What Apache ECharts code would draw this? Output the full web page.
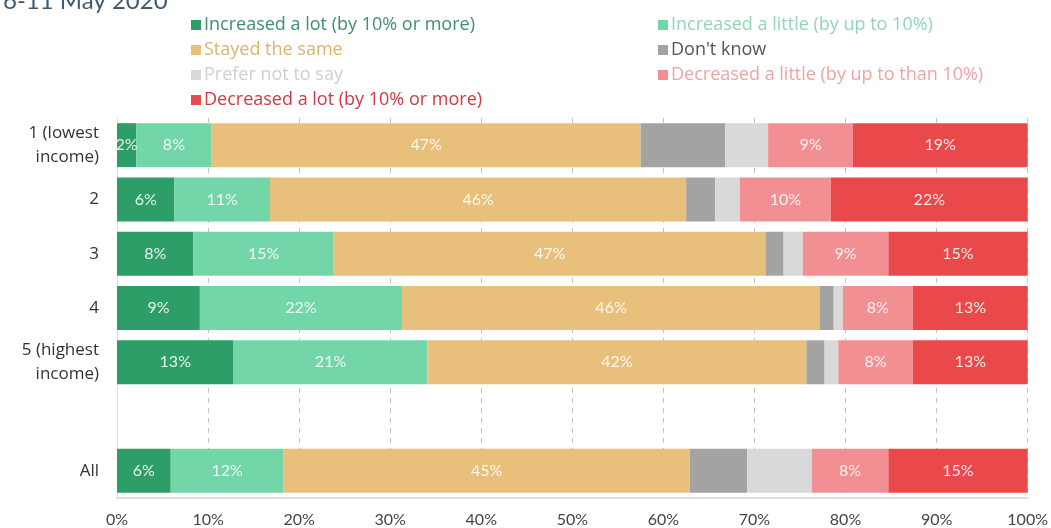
<!DOCTYPE html>
<html>
<head>
<meta charset="utf-8">
<script src="https://cdn.jsdelivr.net/npm/echarts@6/dist/echarts.min.js"></script>
<style>
html,body{margin:0;padding:0;background:#fff;}
#chart{width:1051px;height:528px;}
</style>
</head>
<body>
<div id="chart"></div>
<script>
// ---- data ----
const categories = ['1 (lowest\nincome)', '2', '3', '4', '5 (highest\nincome)', '', 'All'];
const seriesNames = [
  'Increased a lot (by 10% or more)',
  'Increased a little (by up to 10%)',
  'Stayed the same',
  "Don't know",
  'Prefer not to say',
  'Decreased a little (by up to than 10%)',
  'Decreased a lot (by 10% or more)'
];
const increasedLot    = [2.1, 6.3, 8.4, 9.1, 12.8, null, 5.9];
const increasedLittle = [8.3, 10.5, 15.4, 22.2, 21.3, null, 12.4];
const stayedSame      = [47.1, 45.7, 47.4, 45.9, 41.6, null, 44.6];
const dontKnow        = [9.3, 3.2, 2.0, 1.5, 2.0, null, 6.3];
const preferNot       = [4.7, 2.7, 2.1, 1.0, 1.5, null, 7.1];
const decreasedLittle = [9.3, 10.0, 9.4, 7.7, 8.2, null, 8.4];
const decreasedLot    = [19.2, 21.6, 15.3, 12.6, 12.6, null, 15.3];
const xTicks = [0, 10, 20, 30, 40, 50, 60, 70, 80, 90, 100];

// ---- style ----
const colors = ['#2e9e68', '#72d6a8', '#e8c07c', '#a3a3a3', '#d9d9d9', '#f28f92', '#ea494c'];
const legendTextColors = ['#3f8f6c', '#92d6b6', '#dcb46e', '#555555', '#cfcfcf', '#f0a3a6', '#cf3a40'];
const showLabel = [true, true, true, false, false, true, true];
const values = [increasedLot, increasedLittle, stayedSame, dontKnow, preferNot, decreasedLittle, decreasedLot];

const series = seriesNames.map((name, i) => ({
  name: name,
  type: 'bar',
  stack: 'total',
  barCategoryGap: '19%',
  data: values[i],
  itemStyle: { color: colors[i] },
  label: {
    show: showLabel[i],
    position: 'inside',
    color: 'rgba(255,255,255,0.88)',
    fontFamily: 'Lato',
    fontSize: 16,
    formatter: p => (p.value == null ? '' : Math.round(p.value) + '%')
  },
  emphasis: { disabled: true }
}));

const legendItem = i => ({ name: seriesNames[i], textStyle: { color: legendTextColors[i] } });
const legendBase = {
  orient: 'vertical',
  top: 16,
  padding: 0,
  itemWidth: 10,
  itemHeight: 10,
  itemGap: 7,
  icon: 'rect',
  selectedMode: false,
  textStyle: { fontFamily: 'Open Sans', fontSize: 18, lineHeight: 18, padding: [0, 0, 0, -2] }
};

const chart = echarts.init(document.getElementById('chart'), null, { renderer: 'canvas' });
chart.setOption({
  animation: false,
  backgroundColor: '#fff',
  title: {
    text: '6-11 May 2020',
    left: -2,
    top: -16,
    textStyle: { color: '#3c5a72', fontFamily: 'Lato', fontSize: 24, fontWeight: 'normal' }
  },
  legend: [
    Object.assign({}, legendBase, { left: 191, data: [legendItem(0), legendItem(2), legendItem(4), legendItem(6)] }),
    Object.assign({}, legendBase, { left: 658, data: [legendItem(1), legendItem(3), legendItem(5)] })
  ],
  grid: { left: 117, right: 23, top: 118, bottom: 30, containLabel: false },
  xAxis: {
    type: 'value',
    min: xTicks[0],
    max: xTicks[xTicks.length - 1],
    interval: 10,
    axisLine: { show: true, lineStyle: { color: '#dddddd', width: 2 } },
    axisTick: { show: false },
    splitLine: { show: true, lineStyle: { color: '#c4c4c4', type: [5, 5], width: 1 } },
    axisLabel: {
      color: '#444',
      fontFamily: 'Lato',
      fontSize: 16,
      margin: 14,
      formatter: '{value}%'
    }
  },
  yAxis: {
    type: 'category',
    inverse: true,
    data: categories,
    axisLine: { show: true, lineStyle: { color: '#e0e0e0', width: 1 } },
    axisTick: { show: false },
    axisLabel: {
      color: '#333',
      fontFamily: 'Open Sans',
      fontSize: 17,
      lineHeight: 24,
      margin: 18,
      align: 'right'
    }
  },
  series: series
});
</script>
</body>
</html>
